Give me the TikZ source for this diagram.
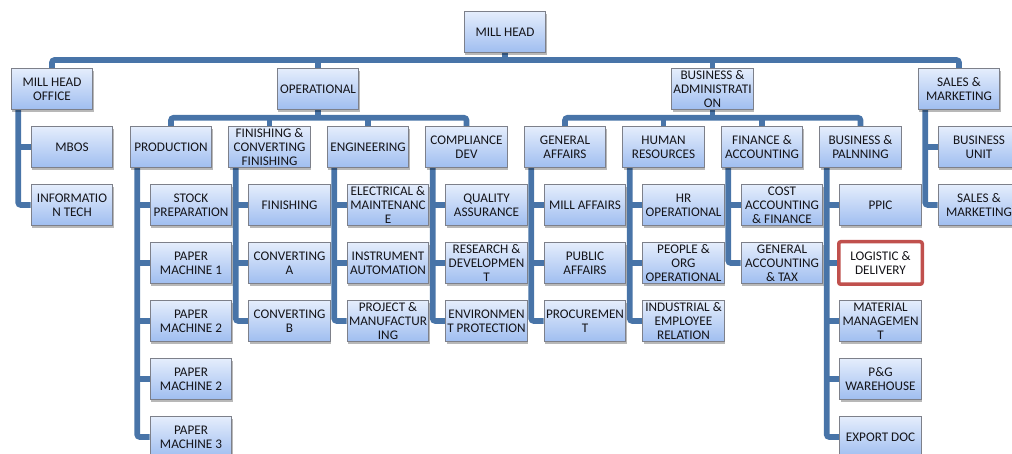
\documentclass[tikz,border=0pt]{standalone}
\usepackage{fontspec}
\setmainfont{Carlito}
\usetikzlibrary{shadows,backgrounds,calc}
\definecolor{conncol}{RGB}{72,116,168}
\definecolor{boxtop}{RGB}{228,237,252}
\definecolor{boxbot}{RGB}{160,190,240}
\definecolor{boxdraw}{RGB}{125,128,138}
\definecolor{hilite}{RGB}{192,80,77}
\definecolor{txt}{RGB}{20,20,25}
\begin{document}
\begin{tikzpicture}[x=1pt,y=-1pt,
  boxbase/.style={minimum width=81.5pt, minimum height=40.5pt, inner sep=0pt,
    align=center, font=\fontsize{13.2}{14}\selectfont, text=txt},
  bx/.style={boxbase, draw=boxdraw, line width=1.1pt, top color=boxtop, bottom color=boxbot,
    drop shadow={shadow xshift=1.2pt, shadow yshift=-2.5pt, opacity=0.28, fill=black}},
  hl/.style={boxbase, draw=hilite, line width=3.5pt, fill=white, rounded corners=2pt,
    minimum width=83.5pt, minimum height=42.5pt},
  conn/.style={draw=conncol, line width=5.6pt, rounded corners=2.5pt}]
\useasboundingbox (0,0) rectangle (1012,454);
% level 0
\node[bx] (mh) at (505,32) {MILL HEAD};
% level 1
\node[bx] (mho) at (52,89) {MILL HEAD\\OFFICE};
\node[bx] (op) at (318,89) {OPERATIONAL};
\node[bx] (ba) at (712.5,89) {BUSINESS \&\\ADMINISTRATI\\ON};
\node[bx] (sm) at (959,89) {SALES \&\\MARKETING};
% level 2
\node[bx] (mbos) at (72,147) {MBOS};
\node[bx] (it) at (72,205) {INFORMATIO\\N TECH};
\node[bx] (prod) at (171,147) {PRODUCTION};
\node[bx] (fin) at (269.5,147) {FINISHING \&\\CONVERTING\\FINISHING};
\node[bx] (eng) at (368,147) {ENGINEERING};
\node[bx] (comp) at (466.5,147) {COMPLIANCE\\DEV};
\node[bx] (ga) at (565,147) {GENERAL\\AFFAIRS};
\node[bx] (hr) at (663.5,147) {HUMAN\\RESOURCES};
\node[bx] (fa) at (762,147) {FINANCE \&\\ACCOUNTING};
\node[bx] (bp) at (860.5,147) {BUSINESS \&\\PALNNING};
\node[bx] (bu) at (979,147) {BUSINESS\\UNIT};
\node[bx] (smk) at (979,205) {SALES \&\\MARKETING};
% production
\node[bx] (p1) at (191,205) {STOCK\\PREPARATION};
\node[bx] (p2) at (191,263) {PAPER\\MACHINE 1};
\node[bx] (p3) at (191,321) {PAPER\\MACHINE 2};
\node[bx] (p4) at (191,379) {PAPER\\MACHINE 2};
\node[bx] (p5) at (191,437) {PAPER\\MACHINE 3};
% finishing
\node[bx] (f1) at (289.5,205) {FINISHING};
\node[bx] (f2) at (289.5,263) {CONVERTING\\A};
\node[bx] (f3) at (289.5,321) {CONVERTING\\B};
% engineering
\node[bx] (e1) at (388,205) {ELECTRICAL \&\\MAINTENANC\\E};
\node[bx] (e2) at (388,263) {INSTRUMENT\\AUTOMATION};
\node[bx] (e3) at (388,321) {PROJECT \&\\MANUFACTUR\\ING};
% compliance
\node[bx] (c1) at (486.5,205) {QUALITY\\ASSURANCE};
\node[bx] (c2) at (486.5,263) {RESEARCH \&\\DEVELOPMEN\\T};
\node[bx] (c3) at (486.5,321) {ENVIRONMEN\\T PROTECTION};
% general affairs
\node[bx] (g1) at (585,205) {MILL AFFAIRS};
\node[bx] (g2) at (585,263) {PUBLIC\\AFFAIRS};
\node[bx] (g3) at (585,321) {PROCUREMEN\\T};
% human resources
\node[bx] (h1) at (683.5,205) {HR\\OPERATIONAL};
\node[bx] (h2) at (683.5,263) {PEOPLE \&\\ORG\\OPERATIONAL};
\node[bx] (h3) at (683.5,321) {INDUSTRIAL \&\\EMPLOYEE\\RELATION};
% finance
\node[bx] (a1) at (782,205) {COST\\ACCOUNTING\\\& FINANCE};
\node[bx] (a2) at (782,263) {GENERAL\\ACCOUNTING\\\& TAX};
% business planning
\node[bx] (b1) at (880.5,205) {PPIC};
\node[hl] (b2) at (880.5,263) {LOGISTIC \&\\DELIVERY};
\node[bx] (b3) at (880.5,321) {MATERIAL\\MANAGEMEN\\T};
\node[bx] (b4) at (880.5,379) {P\&G\\WAREHOUSE};
\node[bx] (b5) at (880.5,437) {EXPORT DOC};

\begin{scope}[on background layer]
% top bar
\coordinate (topbar) at (505,60);
\draw[conn] (mho.north) |- (topbar) -| (sm.north);
\draw[conn] (mh.south) -- (topbar);
\draw[conn] (op.north) -- (op.north |- topbar);
\draw[conn] (ba.north) -- (ba.north |- topbar);
% operational bar
\coordinate (opbar) at ($(op.south)+(0,8)$);
\draw[conn] (op.south) -- (opbar);
\draw[conn] (prod.north) |- (opbar) -| (comp.north);
\draw[conn] (fin.north) -- (fin.north |- opbar);
\draw[conn] (eng.north) -- (eng.north |- opbar);
% business admin bar
\coordinate (babar) at ($(ba.south)+(0,8)$);
\draw[conn] (ba.south) -- (babar);
\draw[conn] (ga.north) |- (babar) -| (bp.north);
\draw[conn] (hr.north) -- (hr.north |- babar);
\draw[conn] (fa.north) -- (fa.north |- babar);
% spines
\coordinate (s0) at ($(mho.south west)+(7.5,0)$);
\draw[conn] (s0) |- (it.west);
\draw[conn] (mbos.west) -- (mbos.west -| s0);
\coordinate (s9) at ($(sm.south west)+(7.5,0)$);
\draw[conn] (s9) |- (smk.west);
\draw[conn] (bu.west) -- (bu.west -| s9);
\coordinate (s1) at ($(prod.south west)+(7.5,0)$);
\draw[conn] (s1) |- (p5.west);
\foreach \n in {p1,p2,p3,p4} \draw[conn] (\n.west) -- (\n.west -| s1);
\coordinate (s2) at ($(fin.south west)+(7.5,0)$);
\draw[conn] (s2) |- (f3.west);
\foreach \n in {f1,f2} \draw[conn] (\n.west) -- (\n.west -| s2);
\coordinate (s3) at ($(eng.south west)+(7.5,0)$);
\draw[conn] (s3) |- (e3.west);
\foreach \n in {e1,e2} \draw[conn] (\n.west) -- (\n.west -| s3);
\coordinate (s4) at ($(comp.south west)+(7.5,0)$);
\draw[conn] (s4) |- (c3.west);
\foreach \n in {c1,c2} \draw[conn] (\n.west) -- (\n.west -| s4);
\coordinate (s5) at ($(ga.south west)+(7.5,0)$);
\draw[conn] (s5) |- (g3.west);
\foreach \n in {g1,g2} \draw[conn] (\n.west) -- (\n.west -| s5);
\coordinate (s6) at ($(hr.south west)+(7.5,0)$);
\draw[conn] (s6) |- (h3.west);
\foreach \n in {h1,h2} \draw[conn] (\n.west) -- (\n.west -| s6);
\coordinate (s7) at ($(fa.south west)+(7.5,0)$);
\draw[conn] (s7) |- (a2.west);
\draw[conn] (a1.west) -- (a1.west -| s7);
\coordinate (s8) at ($(bp.south west)+(7.5,0)$);
\draw[conn] (s8) |- (b5.west);
\foreach \n in {b1,b2,b3,b4} \draw[conn] (\n.west) -- (\n.west -| s8);
\end{scope}
\end{tikzpicture}
\end{document}
